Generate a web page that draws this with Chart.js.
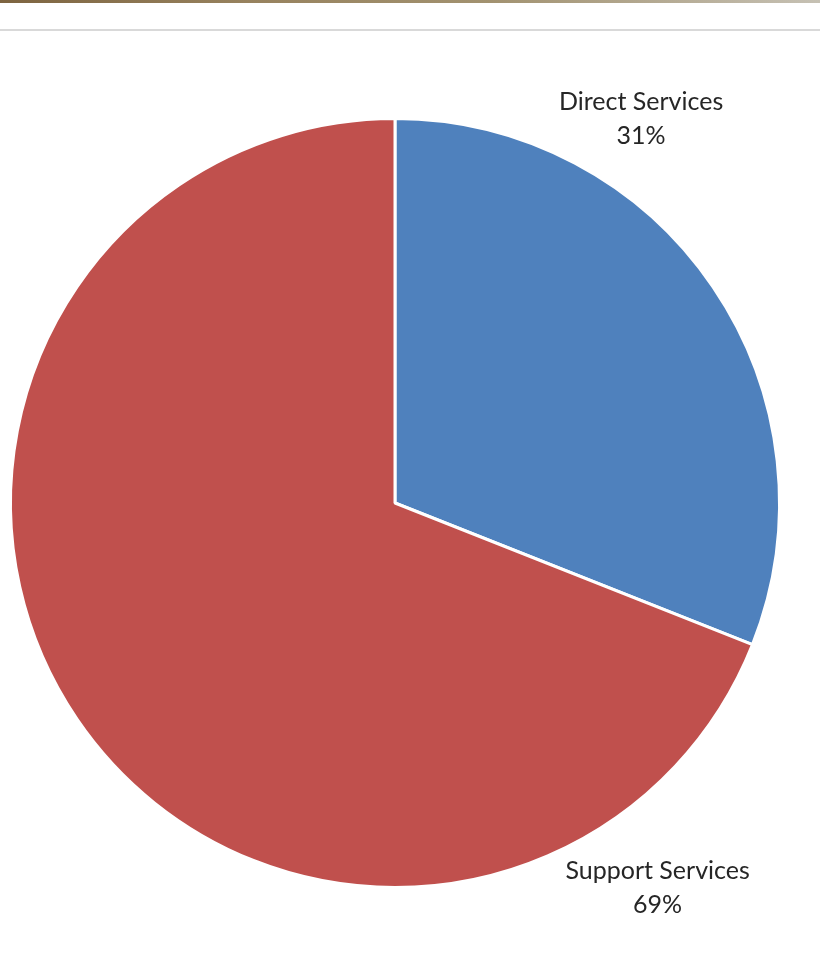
<!DOCTYPE html>
<html>
<head>
<meta charset="utf-8">
<script src="https://cdn.jsdelivr.net/npm/chart.js@4"></script>
<style>
  html, body { margin: 0; padding: 0; background: #fff; }
  .topbar { position: absolute; left: 0; top: 0; width: 820px; height: 3px;
    background: linear-gradient(to right, #7d6440, #97825e 30%, #a29270 60%, #c6c1b4); }
  .rule { position: absolute; left: 0; top: 29px; width: 820px; height: 2px; background: #d9d9d9; }
  .wrap { position: absolute; left: 0; top: 0; width: 820px; height: 973px; }
</style>
</head>
<body>
<div class="topbar"></div>
<div class="rule"></div>
<div class="wrap"><canvas id="pieChart"></canvas></div>
<script>
const categories = ["Direct Services", "Support Services"];
const shares = [31, 69];
const sliceColors = ["#4f81bd", "#c0504d"];
// label anchor relative to pie centre, in units of radius
const labelOffsets = [[0.64, -1.0], [0.683, 1.0]];

// draws "name / pct%" labels outside the slices
const outsideLabels = {
  id: "outsideLabels",
  afterDatasetsDraw(chart) {
    const ctx = chart.ctx;
    const arcs = chart.getDatasetMeta(0).data;
    ctx.save();
    ctx.fillStyle = "#262626";
    ctx.font = "25px Lato, 'Open Sans', sans-serif";
    ctx.textAlign = "center";
    ctx.textBaseline = "middle";
    arcs.forEach((arc, i) => {
      const r = arc.outerRadius;
      const x = arc.x + labelOffsets[i][0] * r;
      const y = arc.y + labelOffsets[i][1] * r;
      ctx.fillText(categories[i], x, y - 17);
      ctx.fillText(shares[i] + "%", x, y + 17);
    });
    ctx.restore();
  }
};

new Chart(document.getElementById("pieChart").getContext("2d"), {
  type: "pie",
  data: {
    labels: categories,
    datasets: [{
      data: shares,
      backgroundColor: sliceColors,
      borderColor: "#ffffff",
      borderWidth: 3
    }]
  },
  options: {
    responsive: true,
    maintainAspectRatio: false,
    animation: false,
    layout: { padding: { left: 9, right: 39, top: 117, bottom: 84 } },
    plugins: {
      legend: { display: false },
      tooltip: { enabled: false }
    }
  },
  plugins: [outsideLabels]
});
</script>
</body>
</html>
